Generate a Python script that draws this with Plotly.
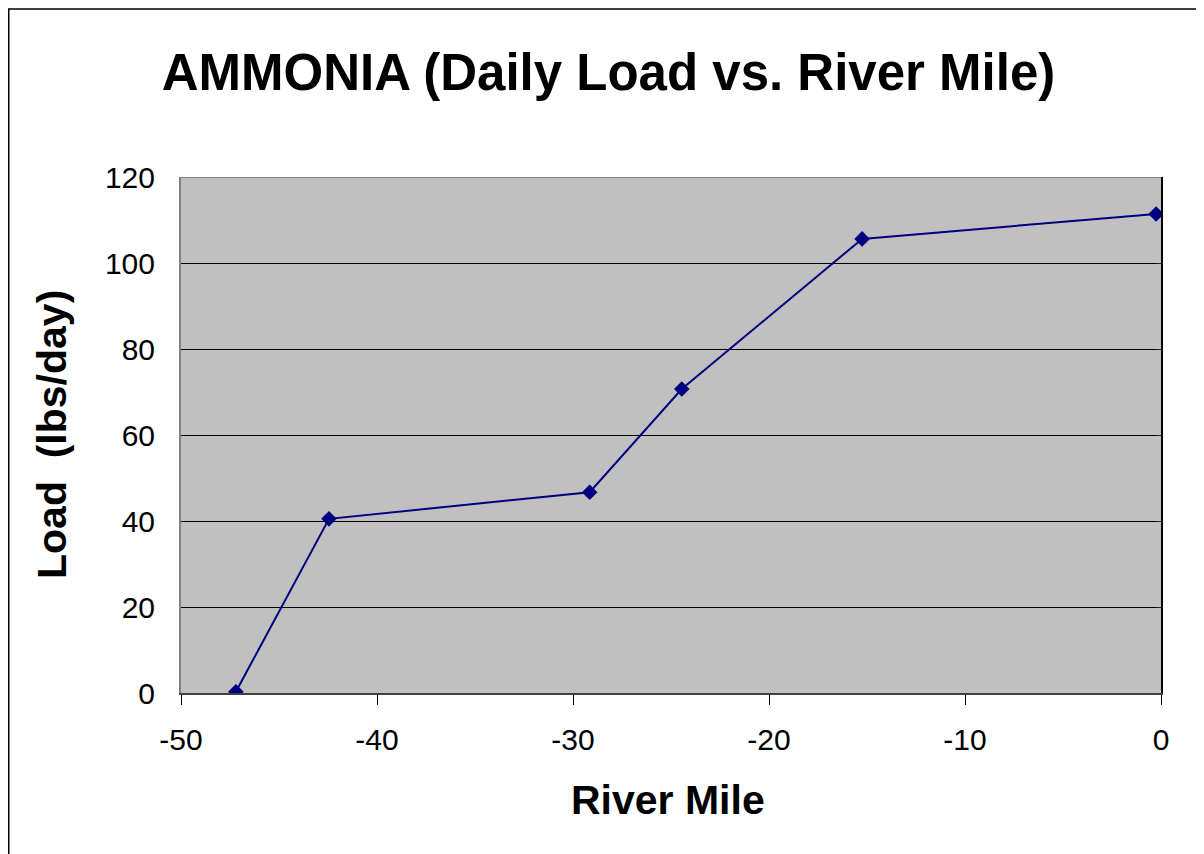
import plotly.graph_objects as go

river_mile = [-47.2, -42.45, -29.15, -24.45, -15.25, -0.25]
load_lbs_day = [0.3, 40.5, 46.7, 70.7, 105.6, 111.4]
x_ticks = [-50, -40, -30, -20, -10, 0]
x_tick_labels = ["-50", "-40", "-30", "-20", "-10", "0"]
y_ticks = [0, 20, 40, 60, 80, 100, 120]

fig = go.Figure()
fig.add_trace(go.Scatter(
    x=river_mile, y=load_lbs_day, mode="lines+markers",
    line=dict(color="#000080", width=2),
    marker=dict(symbol="diamond", size=12, color="#000080"),
    showlegend=False,
))
fig.add_trace(go.Scatter(x=[None], y=[None], yaxis="y2", showlegend=False))

font = "Liberation Sans, Arial, sans-serif"
L, R, T, B = 173, 51, 169, 169
PW, PH = 1204 - L - R, 854 - T - B

fig.update_layout(
    width=1204, height=854,
    paper_bgcolor="white", plot_bgcolor="#C0C0C0",
    margin=dict(l=L, r=R, t=T, b=B),
    title=dict(text="<b>AMMONIA (Daily Load vs. River Mile)</b>",
               xref="container", x=600.5 / 1204, xanchor="center",
               yref="container", y=1 - 64 / 854, yanchor="middle",
               font=dict(family=font, size=51, color="black")),
    xaxis=dict(range=[-50, 0], tickvals=x_ticks, ticktext=x_tick_labels,
               ticks="outside", ticklen=10,
               tickcolor="black", tickwidth=1, showline=True, linecolor="#404040",
               linewidth=2, showgrid=False, zeroline=False, ticklabelstandoff=9,
               tickfont=dict(family=font, size=30, color="black")),
    yaxis=dict(range=[0, 120], tickvals=y_ticks, ticks="", showline=True,
               linecolor="#808080", linewidth=2,
               showgrid=True, gridcolor="#000000", gridwidth=1, zeroline=False,
               tickfont=dict(family=font, size=30, color="black"), ticklabelstandoff=18),
    yaxis2=dict(range=[0, 120], tickvals=y_ticks, overlaying="y", side="right",
                ticks="inside", ticklen=5, tickcolor="#202020", showticklabels=False,
                showline=True, linecolor="black", linewidth=1.5, showgrid=False,
                zeroline=False),
    annotations=[
        dict(text="<b>River Mile</b>", xref="paper", yref="paper",
             x=(660 - L) / PW, y=(854 - B - 792) / PH, xanchor="center", yanchor="middle",
             showarrow=False, font=dict(family=font, size=41, color="black")),
        dict(text="<b>Load\u00a0\u00a0(lbs/day)</b>", xref="paper", yref="paper",
             x=(44 - L) / PW, y=(854 - B - 427) / PH, xanchor="center", yanchor="middle",
             textangle=-90, showarrow=False, font=dict(family=font, size=41, color="black")),
    ],
    shapes=[
        dict(type="line", xref="x", yref="y", x0=-50, x1=0, y0=120, y1=120,
             line=dict(color="#808080", width=2), layer="below"),
        dict(type="rect", xref="paper", yref="paper",
             x0=(0.75 - L) / PW, x1=(1300 - L) / PW,
             y0=(854 - B - 900) / PH, y1=(854 - B - 1) / PH,
             line=dict(color="black", width=1.5), fillcolor="rgba(0,0,0,0)"),
    ],
)

fig.write_html("out.html")
